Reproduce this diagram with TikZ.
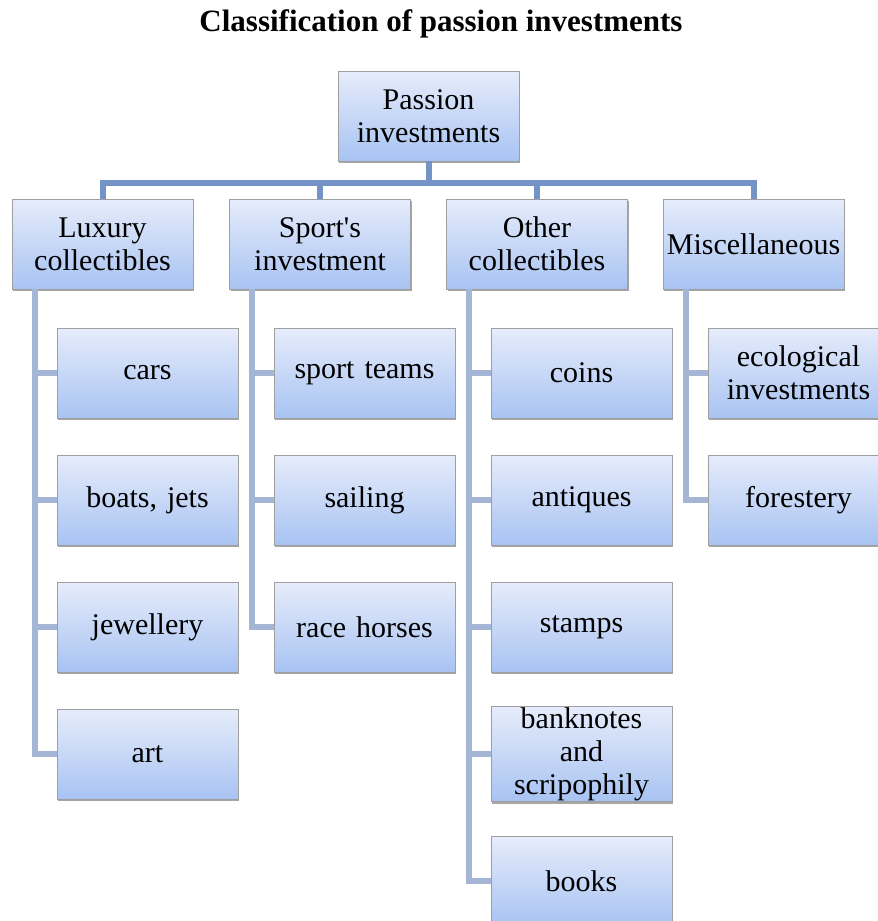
\documentclass[tikz,border=0pt]{standalone}
\usepackage{fontspec}
\setmainfont{Liberation Serif}
\usetikzlibrary{positioning}
\usetikzlibrary{shadows}

\definecolor{boxtop}{HTML}{E6ECFB}
\definecolor{boxbot}{HTML}{A8C3F2}
\definecolor{toplinec}{HTML}{7494C8}
\definecolor{sublinec}{HTML}{A4B5D6}

\begin{document}
\begin{tikzpicture}[x=1pt,y=-1pt,
    box/.style={rectangle,draw=gray!75,top color=boxtop,bottom color=boxbot,
        minimum width=181pt,minimum height=90pt,text width=176pt,inner sep=1pt,
        align=center,font=\fontsize{30}{33}\selectfont,
        drop shadow={shadow xshift=1pt,shadow yshift=-2pt,fill=gray!70,opacity=1}},
    topline/.style={draw=toplinec,line width=6pt},
    subline/.style={draw=sublinec,line width=6pt}]
            \useasboundingbox (0,0) rectangle (878,921);

            \node[font=\fontsize{31}{33}\selectfont\bfseries] (title) at (441,24) {Classification of passion investments};

            \begin{scope}[every node/.style={box}]
                \node (root) at (428.5,116) {Passion\\investments};

                \node (lux) at (102.5,244) {Luxury\\collectibles};
                \node (sport) at (320,244) {Sport\textquotesingle s\\investment};
                \node (other) at (537,244) {Other\\collectibles};
                \node (misc) at (753.5,244) {Miscellaneous};

                \node (cars) at (147.5,373) {cars};
                \node (boats) at (147.5,500) {boats, jets};
                \node (jewel) at (147.5,627) {jewellery};
                \node (art) at (147.5,754) {art};

                \node (teams) at (364.5,373) {sport teams};
                \node (sail) at (364.5,500) {sailing};
                \node (horses) at (364.5,627) {race horses};

                \node (coins) at (581.5,373) {coins};
                \node (antiq) at (581.5,500) {antiques};
                \node (stamps) at (581.5,627) {stamps};
                \node (bank) at (581.5,754) {banknotes\\and\\scripophily};
                \node (books) at (581.5,881) {books};

                \node (eco) at (798.5,373) {ecological\\investments};
                \node (forest) at (798.5,500) {forestery};
            \end{scope};

            \begin{scope}[line join=miter]
                \path [topline] (root.south) -- ++(0,22) -| (lux.north);
                \path [topline] (root.south) -- ++(0,22) -| (sport.north);
                \path [topline] (root.south) -- ++(0,22) -| (other.north);
                \path [topline] (root.south) -- ++(0,22) -| (misc.north);

                \path [subline] ([xshift=23pt]lux.south west) |- (cars.west);
                \path [subline] ([xshift=23pt]lux.south west) |- (boats.west);
                \path [subline] ([xshift=23pt]lux.south west) |- (jewel.west);
                \path [subline] ([xshift=23pt]lux.south west) |- (art.west);

                \path [subline] ([xshift=23pt]sport.south west) |- (teams.west);
                \path [subline] ([xshift=23pt]sport.south west) |- (sail.west);
                \path [subline] ([xshift=23pt]sport.south west) |- (horses.west);

                \path [subline] ([xshift=23pt]other.south west) |- (coins.west);
                \path [subline] ([xshift=23pt]other.south west) |- (antiq.west);
                \path [subline] ([xshift=23pt]other.south west) |- (stamps.west);
                \path [subline] ([xshift=23pt]other.south west) |- (bank.west);
                \path [subline] ([xshift=23pt]other.south west) |- (books.west);

                \path [subline] ([xshift=23pt]misc.south west) |- (eco.west);
                \path [subline] ([xshift=23pt]misc.south west) |- (forest.west);
            \end{scope}
        \end{tikzpicture}
\end{document}
